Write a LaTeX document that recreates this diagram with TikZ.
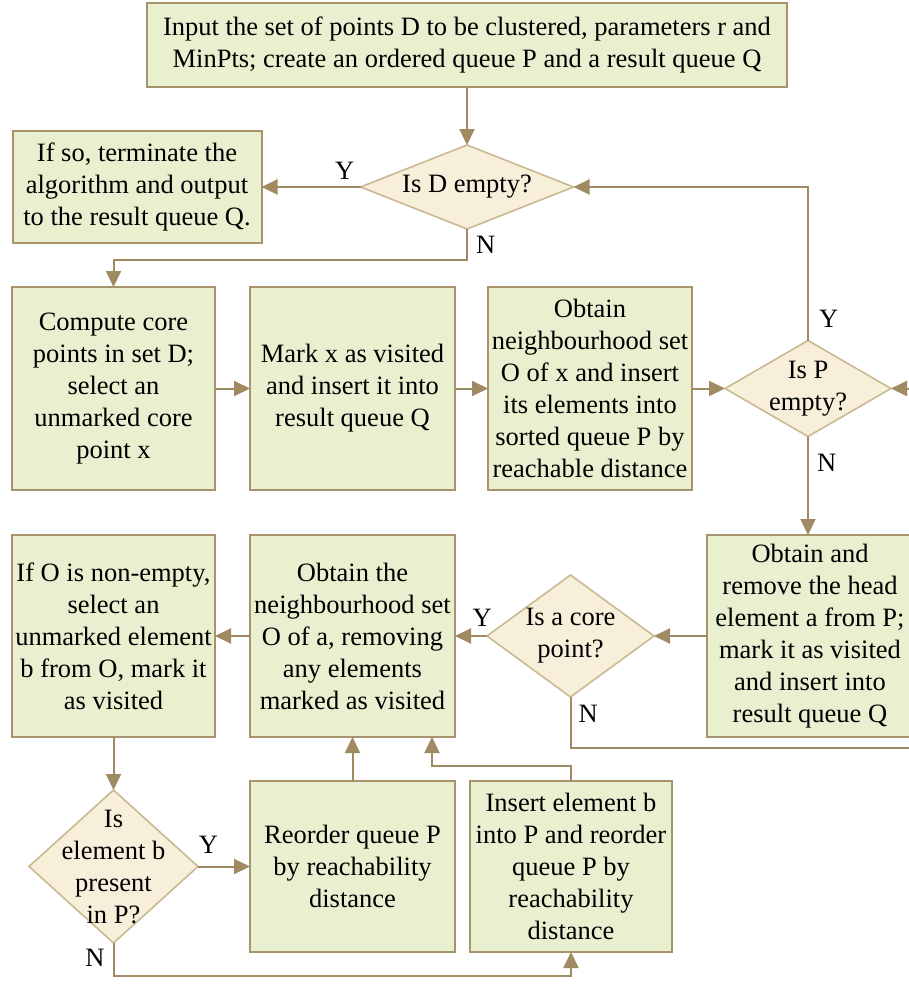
\documentclass[tikz,border=0pt]{standalone}
\usepackage{fontspec}
\setmainfont{Liberation Serif}
\usetikzlibrary{positioning, arrows.meta, shapes.geometric}

\definecolor{boxfill}{RGB}{233,240,207}
\definecolor{boxline}{RGB}{168,148,108}
\definecolor{testfill}{RGB}{247,239,218}
\definecolor{testline}{RGB}{202,184,146}
\definecolor{flowline}{RGB}{160,138,98}

\begin{document}
\begin{tikzpicture}[
    x=1pt, y=-1pt,
    every node/.style={font=\fontsize{26.5}{32}\selectfont},
    box/.style={draw=boxline, fill=boxfill, line width=2pt, inner sep=0pt, outer sep=0pt, align=center},
    test/.style={diamond, draw=testline, fill=testfill, line width=1.6pt, inner sep=-40pt, outer sep=0pt, align=center},
    arrow/.style={-{Triangle[length=16pt, width=15pt]}, draw=flowline, line width=2pt},
    lbl/.style={inner sep=2pt}
  ]
  \useasboundingbox (0,0) rectangle (909,985);

  % top part
  \node[box, minimum width=640pt, minimum height=84pt] (input) at (467,45)
    {Input the set of points D to be clustered, parameters r and\\MinPts; create an ordered queue P and a result queue Q};
  \node[test, minimum width=213pt, minimum height=84pt, below=58pt of input] (isD) {Is D empty?};
  \node[box, minimum width=249pt, minimum height=112pt, left=99pt of isD] (stop)
    {If so, terminate the\\algorithm and output\\to the result queue Q.};

  % second row
  \node[box, minimum width=203pt, minimum height=203pt] (core) at (113.5,388.5)
    {Compute core\\points in set D;\\select an\\unmarked core\\point x};
  \node[box, minimum width=205pt, minimum height=203pt, right=35pt of core] (mark)
    {Mark x as visited\\and insert it into\\result queue Q};
  \node[box, minimum width=204pt, minimum height=203pt, right=33pt of mark] (nbr)
    {Obtain\\neighbourhood set\\O of x and insert\\its elements into\\sorted queue P by\\reachable distance};
  \node[test, minimum width=166pt, minimum height=96pt, right=33pt of nbr] (isP) {Is P\\empty?};

  % third row
  \node[box, minimum width=206pt, minimum height=202pt] (head) at (810,636)
    {Obtain and\\remove the head\\element a from P;\\mark it as visited\\and insert into\\result queue Q};
  \node[test, minimum width=167pt, minimum height=122pt, left=53pt of head] (isCore) {Is a core\\point?};
  \node[box, minimum width=205pt, minimum height=202pt, left=32pt of isCore] (nbra)
    {Obtain the\\neighbourhood set\\O of a, removing\\any elements\\marked as visited};
  \node[box, minimum width=203pt, minimum height=202pt, left=35pt of nbra] (pick)
    {If O is non-empty,\\select an\\unmarked element\\b from O, mark it\\as visited};

  % bottom row
  \node[test, minimum width=169pt, minimum height=153pt] (isB) at (113.5,866.5)
    {Is\\element b\\present\\in P?};
  \node[box, minimum width=205pt, minimum height=171pt, right=52pt of isB] (reorder)
    {Reorder queue P\\by reachability\\distance};
  \node[box, minimum width=202pt, minimum height=171pt, right=15pt of reorder] (insert)
    {Insert element b\\into P and reorder\\queue P by\\reachability\\distance};

  % connectors
  \draw[arrow] (input) -- (isD);
  \draw[arrow] (isD) -- node[lbl, above=5pt, pos=0.16] (yD) {Y} (stop);
  \draw[arrow] (isD.south) -- node[lbl, right=6pt] (nD) {N} ++(0,31) -| (core.north);
  \draw[arrow] (core) -- (mark);
  \draw[arrow] (mark) -- (nbr);
  \draw[arrow] (nbr) -- (isP);
  \draw[arrow] (isP.north) |- node[lbl, right=8pt, pos=0.07] (yP) {Y} (isD.east);
  \draw[arrow] (isP.south) -- node[lbl, right=6pt, pos=0.27] (nP) {N} (isP.south |- head.north);
  \draw[arrow] (head) -- (isCore);
  \draw[arrow] (isCore) -- node[lbl, above=7pt, pos=0.15] (yC) {Y} (nbra);
  \draw[arrow] (isCore.south) |- node[lbl, right=5pt, pos=0.16] (nC) {N} ++(365,51) |- (isP.east);
  \draw[arrow] (nbra) -- (pick);
  \draw[arrow] (pick) -- (isB);
  \draw[arrow] (isB) -- node[lbl, above=10pt, pos=0.2] (yB) {Y} (reorder);
  \draw[arrow] (reorder) -- (nbra);
  \draw[arrow] (insert.north) -- ++(0,-15) -| ([xshift=-23pt]nbra.south east);
  \draw[arrow] (isB.south) -- node[lbl, left=6pt, pos=0.45] (nB) {N} ++(0,33) -| (insert.south);
\end{tikzpicture}
\end{document}
